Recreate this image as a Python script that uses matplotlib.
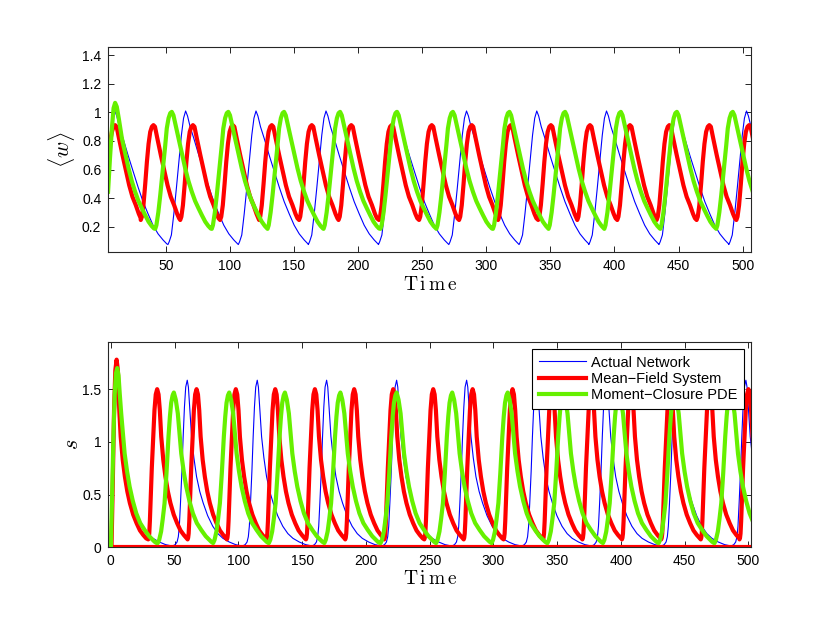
import numpy as np
import matplotlib
matplotlib.use("Agg")
import matplotlib.pyplot as plt

plt.rcParams['font.family'] = ['Liberation Sans', 'DejaVu Sans']
plt.rcParams['mathtext.fontset'] = 'cm'

# ---------------- values ----------------
# Each curve is a train of similar cycles: one cycle shape (offset from the
# peak, value) read from a clean cycle, plus the peak times of every cycle.

# top panel <w>
w_net_peaks = [10.3, 65.5, 120.4, 175.0, 229.7, 284.6, 339.4, 393.8, 448.5, 503.0]
w_net_dt = [-13.8, -12.8, -11.1, -9.2, -7.2, -5.2, -3.3, -1.6, 0, 1.5, 3.5, 6.4,
            10.3, 14.3, 18.2, 22.0, 25.9, 29.8, 33.7, 37.6, 40.5]
w_net_v = [0.075, 0.095, 0.142, 0.29, 0.47, 0.66, 0.84, 0.96, 1.01, 0.975, 0.90, 0.818,
           0.70, 0.585, 0.475, 0.375, 0.29, 0.21, 0.15, 0.107, 0.08]

w_mf_head_t = [5.0, 7.5]
w_mf_head_v = [0.72, 0.84]
w_mf_peaks = [10.5, 40.4, 71.2, 102.3, 132.7, 163.9, 194.7, 226.2, 257.5, 288.7,
              319.1, 350.4, 380.9, 412.1, 442.8, 474.0, 505.0]
w_mf_dt = [-9.9, -9.0, -7.8, -6.4, -5.1, -3.8, -2.5, -1.2, 0, 1.2, 3.0, 5.8, 8.5,
           11.0, 13.5, 16.1, 18.5, 20.0]
w_mf_v = [0.247, 0.27, 0.35, 0.50, 0.654, 0.78, 0.864, 0.90, 0.911, 0.90, 0.82, 0.70,
          0.59, 0.49, 0.41, 0.352, 0.29, 0.259]

w_mc_head_t = [5.0, 6.5, 8.0, 9.3, 10.5, 11.8, 13.5]
w_mc_head_v = [0.445, 0.68, 0.89, 1.03, 1.067, 1.04, 0.95]
w_mc_peaks = [10.5, 54.7, 98.8, 142.3, 186.0, 230.4, 274.0, 318.1, 361.5, 405.0,
              448.7, 492.3]
w_mc_dt = [-12.9, -12.0, -10.5, -9.0, -7.7, -6.4, -5.1, -3.9, -2.5, -1.2, 0, 1.3, 3.0,
           5.3, 8.0, 10.5, 13.0, 15.6, 18.2, 20.9, 23.5, 26.1, 28.5, 30.4]
w_mc_v = [0.185, 0.21, 0.30, 0.42, 0.54, 0.654, 0.77, 0.888, 0.96, 0.995, 1.004, 0.98,
          0.91, 0.818, 0.71, 0.608, 0.52, 0.445, 0.38, 0.328, 0.28, 0.235, 0.205, 0.187]

# bottom panel s
s_net_head_t = [0.0, 1.5, 3.0, 4.2]
s_net_head_v = [0.0, 0.3, 1.1, 1.5]
s_net_peaks = [5.0, 59.9, 114.8, 169.2, 224.1, 279.0, 333.8, 388.6, 443.4, 498.0]
s_net_dt = [-12, -9.5, -8, -7, -6.2, -5.3, -4.2, -3.2, -2.2, -1.2, 0, 0.9, 2, 3.4,
            5.2, 7.3, 9.8, 12.5, 16, 20, 24, 28, 33, 38, 42]
s_net_v = [0.01, 0.025, 0.05, 0.1, 0.2, 0.42, 0.72, 1.05, 1.33, 1.52, 1.585, 1.52,
           1.32, 1.05, 0.85, 0.67, 0.53, 0.42, 0.3, 0.2, 0.13, 0.085, 0.05, 0.025, 0.015]

s_mf_head_t = [0.5, 1.5, 2.5, 3.5, 4.5, 5.5, 6.2]
s_mf_head_v = [0.0, 0.6, 1.3, 1.68, 1.78, 1.68, 1.45]
s_mf_peaks = [4.5, 36.3, 67.2, 98.0, 128.9, 160.0, 190.8, 221.4, 252.8, 283.7, 315.0,
              345.9, 376.8, 407.8, 438.6, 469.6, 500.0]
s_mf_dt = [-7, -6.6, -6.2, -5.7, -5.2, -4.2, -3.1, -2.1, -1.1, 0, 1.1, 2.1, 3.2, 4.8,
           6.5, 8.4, 10.4, 13, 15.7, 18.3, 20.9, 23.2]
s_mf_v = [0.075, 0.09, 0.13, 0.25, 0.42, 0.75, 1.05, 1.3, 1.45, 1.50, 1.45, 1.3, 1.05,
          0.83, 0.67, 0.53, 0.42, 0.31, 0.228, 0.16, 0.117, 0.085]
# second mean-field component, sitting on zero
s_mf2_t = [0.0, 505.0]
s_mf2_v = [0.0, 0.0]

s_mc_head_t = [0.0, 1.0, 2.0, 3.0, 4.0, 5.0, 6.0, 7.0]
s_mc_head_v = [0.0, 0.5, 1.05, 1.45, 1.65, 1.70, 1.63, 1.45]
s_mc_peaks = [5.0, 49.4, 92.8, 136.5, 180.0, 224.1, 267.7, 311.2, 355.0, 398.5,
              442.2, 486.0]
s_mc_dt = [-12.6, -11.5, -10.0, -8.7, -7.3, -5.8, -4.2, -3.1, -2.1, -1.0, 0, 1.5, 3.1,
           4.4, 5.8, 7.7, 9.7, 12.2, 14.9, 18.0, 21.5, 25.0, 29.3, 30.6]
s_mc_v = [0.04, 0.07, 0.15, 0.27, 0.418, 0.70, 1.05, 1.24, 1.37, 1.44, 1.468, 1.40, 1.27,
          1.09, 0.89, 0.72, 0.576, 0.44, 0.323, 0.23, 0.164, 0.105, 0.053, 0.042]

labels = ['Actual Network', 'Mean\u2212Field System', 'Moment\u2212Closure PDE']
blue = (0.0, 0.0, 1.0)
red = (1.0, 0.0, 0.0)
green = '#66f000'


def build(peaks, dt, v, head_t=(), head_v=(), t_min=-np.inf):
    t = list(head_t)
    y = list(head_v)
    for p in peaks:
        for d, val in zip(dt, v):
            if p + d >= t_min:
                t.append(p + d)
                y.append(val)
    return np.array(t), np.array(y)


fig = plt.figure(figsize=(8.3, 6.23), dpi=100)
ax1 = fig.add_axes([0.1305, 0.596, 0.7743, 0.329])
ax2 = fig.add_axes([0.1305, 0.1215, 0.7743, 0.330])

# top
t, y = build(w_net_peaks, w_net_dt, w_net_v)
ax1.plot(t, y, color=blue, lw=0.8)
t, y = build(w_mf_peaks, w_mf_dt, w_mf_v, w_mf_head_t, w_mf_head_v, t_min=8.0)
ax1.plot(t, y, color=red, lw=3)
t, y = build(w_mc_peaks, w_mc_dt, w_mc_v, w_mc_head_t, w_mc_head_v, t_min=15.0)
ax1.plot(t, y, color=green, lw=3)

ax1.set_xlim(5.2, 506.5)
ax1.set_ylim(0.025, 1.46)
ax1.set_xticks(np.arange(50, 501, 50))
ax1.set_yticks([0.2, 0.4, 0.6, 0.8, 1.0, 1.2, 1.4])
ax1.set_yticklabels(['0.2', '0.4', '0.6', '0.8', '1', '1.2', '1.4'])
ax1.set_ylabel(r'$\langle w \rangle$', fontsize=16)
ax1.set_xlabel(r'$\mathrm{T\,i\,m\,e}$', fontsize=14)

# bottom
t, y = build(s_net_peaks, s_net_dt, s_net_v, s_net_head_t, s_net_head_v, t_min=5.0)
ln_net, = ax2.plot(t, y, color=blue, lw=0.8)
t, y = build(s_mf_peaks, s_mf_dt, s_mf_v, s_mf_head_t, s_mf_head_v, t_min=6.6)
ln_mf, = ax2.plot(t, y, color=red, lw=3)
ax2.plot(s_mf2_t, s_mf2_v, color=red, lw=3)
t, y = build(s_mc_peaks, s_mc_dt, s_mc_v, s_mc_head_t, s_mc_head_v, t_min=8.0)
ln_mc, = ax2.plot(t, y, color=green, lw=3)

ax2.set_xlim(-2, 502)
ax2.set_ylim(0, 1.95)
ax2.set_xticks(np.arange(0, 501, 50))
ax2.set_yticks([0, 0.5, 1.0, 1.5])
ax2.set_yticklabels(['0', '0.5', '1', '1.5'])
ax2.set_ylabel(r'$s$', fontsize=16)
ax2.set_xlabel(r'$\mathrm{T\,i\,m\,e}$', fontsize=14)

leg = ax2.legend([ln_net, ln_mf, ln_mc], labels, loc='upper right', fontsize=10.5,
                 fancybox=False, framealpha=1, edgecolor='black', borderpad=0.45,
                 labelspacing=0.15, handlelength=3.2, handletextpad=0.35,
                 borderaxespad=0.5)
leg.get_frame().set_linewidth(0.8)

for ax in (ax1, ax2):
    ax.tick_params(direction='in', top=True, right=True, length=4, width=0.6,
                   labelsize=10, pad=5)
    for sp in ax.spines.values():
        sp.set_linewidth(0.8)
        sp.set_color('#262626')

ax1.yaxis.set_label_coords(-0.048, 0.5)
ax2.yaxis.set_label_coords(-0.040, 0.5)
ax1.xaxis.set_label_coords(0.5, -0.12)
ax2.xaxis.set_label_coords(0.5, -0.11)

fig.savefig('out.png', dpi=100, facecolor='white')
